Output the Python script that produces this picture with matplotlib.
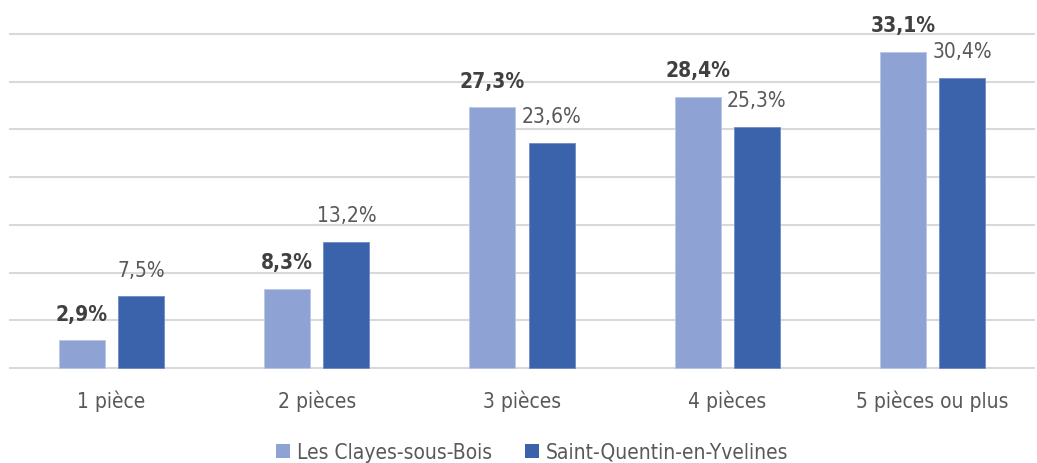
import numpy as np
import matplotlib.pyplot as plt
from matplotlib.patches import Patch

# Données
categories = ["1 pièce", "2 pièces", "3 pièces", "4 pièces", "5 pièces ou plus"]
claye = [2.9, 8.3, 27.3, 28.4, 33.1]
sqy = [7.5, 13.2, 23.6, 25.3, 30.4]
series_names = ["Les Clayes-sous-Bois", "Saint-Quentin-en-Yvelines"]

col_light = "#8FA2D4"
col_dark = "#3B63AB"

plt.rcParams['font.family'] = ['DejaVu Sans']
FONT = dict(family='DejaVu Sans', stretch='condensed')

fig = plt.figure(figsize=(10.37, 4.64), dpi=100)
ax = fig.add_axes([9 / 1037, 94 / 464, 1026 / 1037, 336 / 464])

x = np.arange(len(categories))
w = 0.224
off = 0.144
ax.bar(x - off, claye, w, color=col_light, edgecolor="#B8C6E6", linewidth=0.6, zorder=3)
ax.bar(x + off, sqy, w, color=col_dark, edgecolor="#6E8CC4", linewidth=0.6, zorder=3)

def fmt(v):
    return f"{v:.1f}%".replace(".", ",")

for xi, v in zip(x, claye):
    ax.annotate(fmt(v), (xi - off, v), xytext=(0, 12), textcoords="offset points",
                ha="center", va="bottom", fontsize=15, fontweight="bold",
                color="#404040", **FONT)
for xi, v in zip(x, sqy):
    ax.annotate(fmt(v), (xi + off, v), xytext=(0, 12), textcoords="offset points",
                ha="center", va="bottom", fontsize=15, color="#595959", **FONT)

ax.set_xlim(-0.5, len(categories) - 0.5)
ax.set_ylim(-0.1, 35.1)
ax.set_yticks(np.arange(0, 36, 5))
ax.set_yticklabels([])
ax.tick_params(axis='y', length=0)
ax.grid(axis='y', color="#D9D9D9", linewidth=1.5, zorder=0)
ax.set_axisbelow(True)
for s in ax.spines.values():
    s.set_visible(False)

ax.set_xticks(x)
ax.set_xticklabels(categories)
ax.tick_params(axis='x', length=0, pad=15, labelsize=15, labelcolor="#595959")
for lbl in ax.get_xticklabels():
    lbl.set_fontstretch('condensed')

handles = [Patch(facecolor=col_light), Patch(facecolor=col_dark)]
fig.legend(handles, series_names, loc="center", bbox_to_anchor=(532 / 1037, 1 - 453 / 464),
           ncol=2, frameon=False, prop=dict(size=15, stretch='condensed'),
           labelcolor="#595959", handlelength=0.68, handleheight=0.68,
           handletextpad=0.3, columnspacing=1.6)

fig.savefig("out.png", dpi=100)
